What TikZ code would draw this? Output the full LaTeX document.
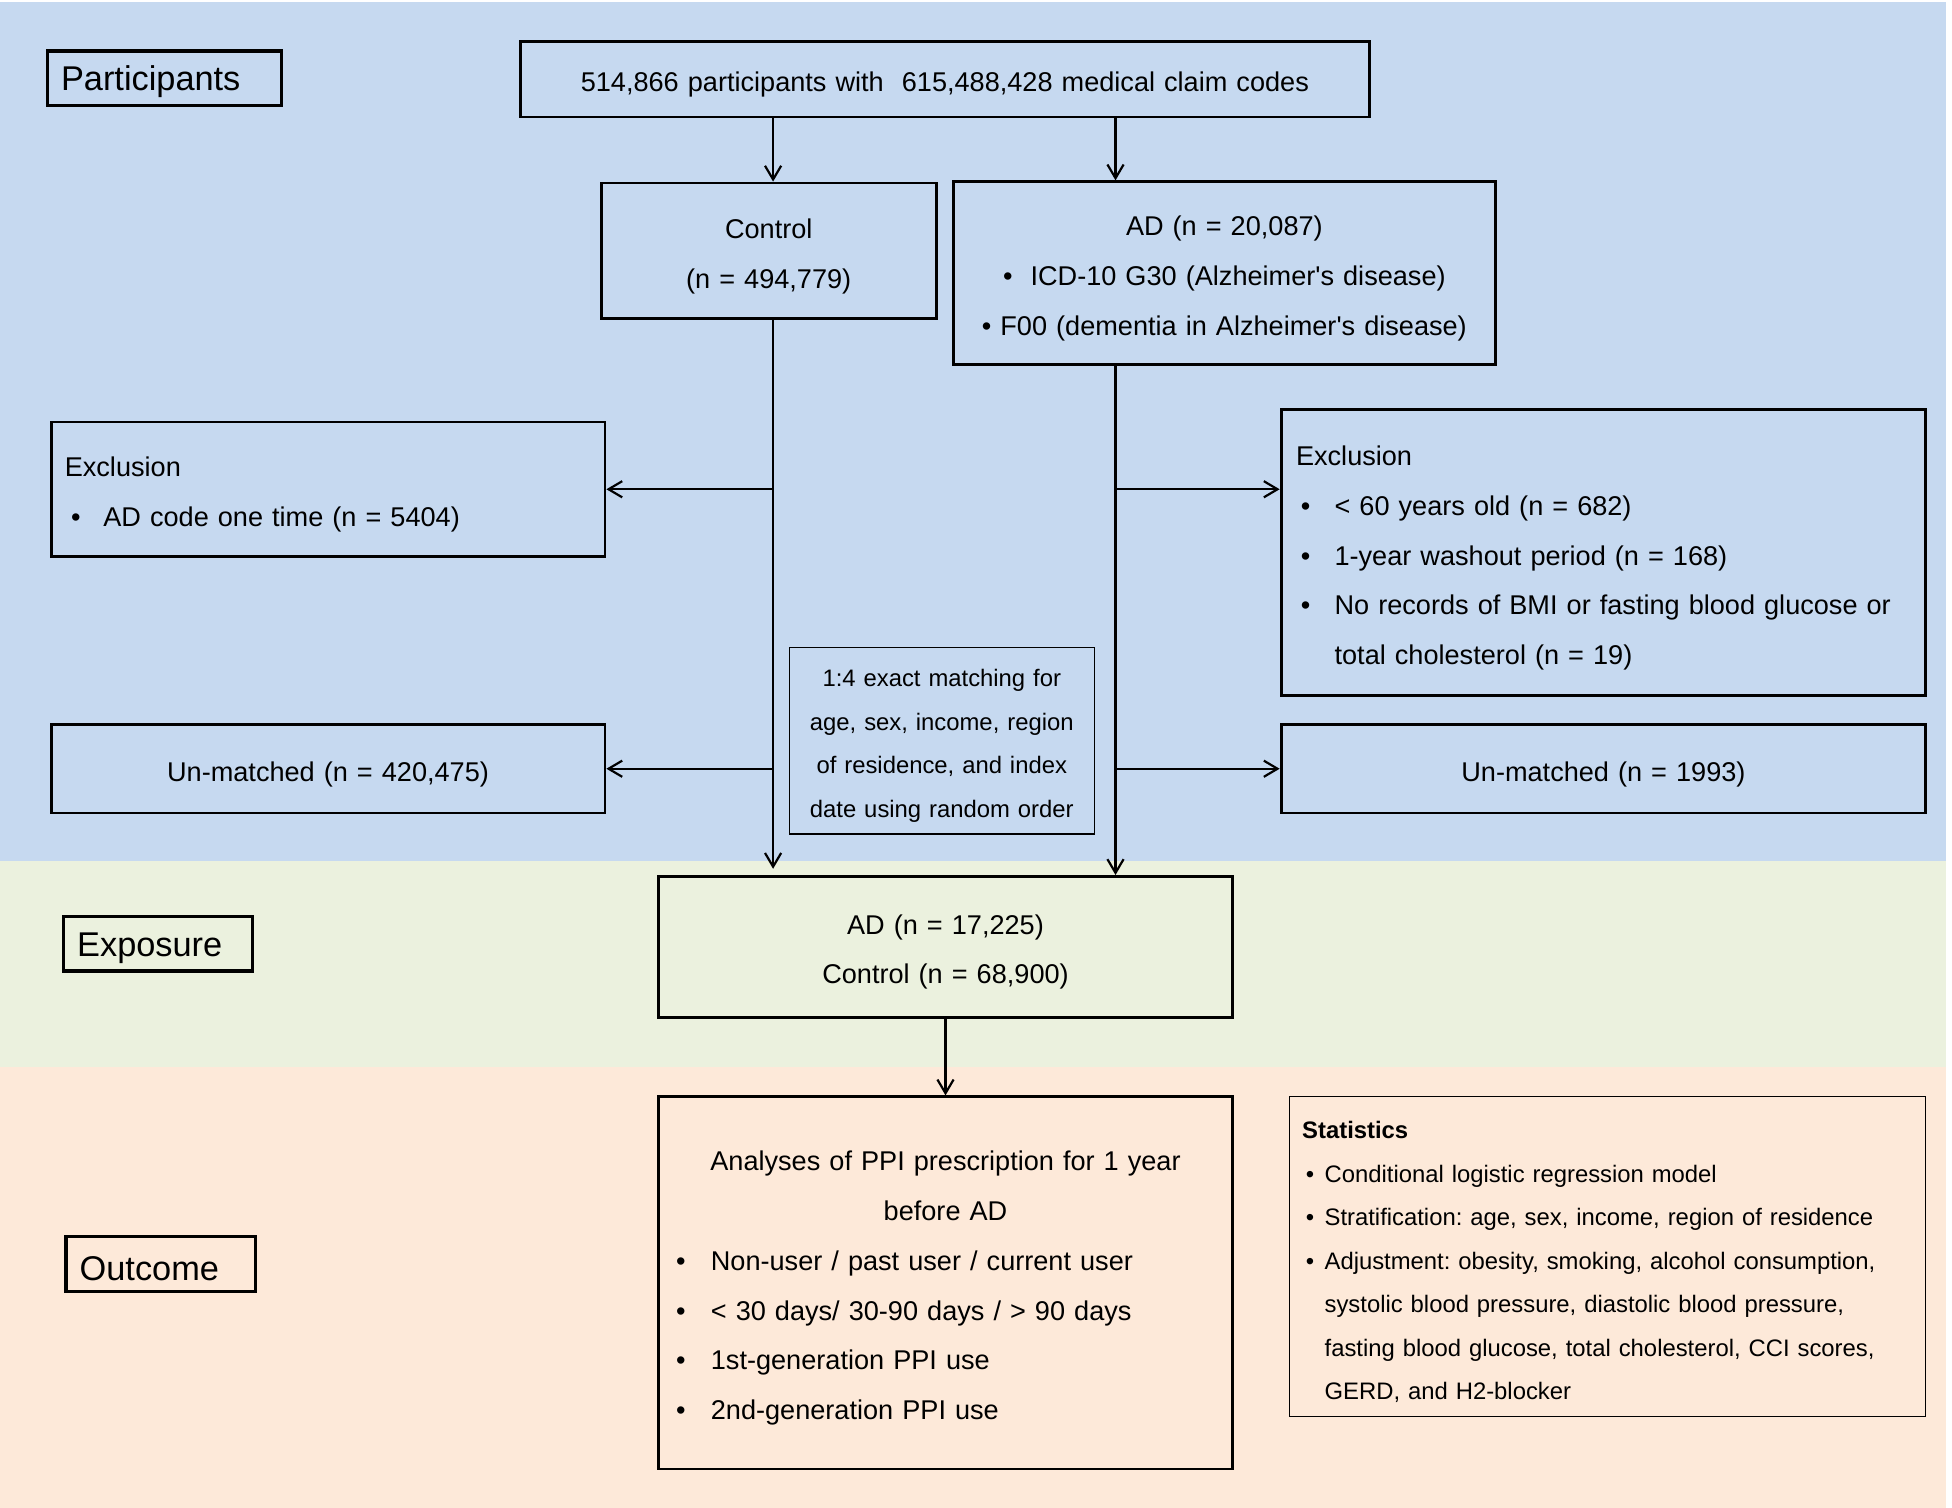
\documentclass[tikz,border=0pt]{standalone}
\usepackage{fontspec}
\setmainfont{Liberation Sans}
\usepackage{tikz}
\usetikzlibrary{arrows.meta, positioning, calc}
\definecolor{partblue}{HTML}{C6D9F0}
\definecolor{expogreen}{HTML}{EBF1DE}
\definecolor{outcpeach}{HTML}{FDE9D9}
\newcommand{\boxfont}{\fontsize{12.4}{22.76}\selectfont}
\newcommand{\smallboxfont}{\fontsize{10.9}{19.9}\selectfont}
\newcommand{\stagefont}{\fontsize{15.7}{18}\selectfont}
% bullet: shift, then width of the bullet column
\newcommand{\bul}[2]{\hspace*{#1}\makebox[#2][l]{\textbullet}}
% taller first line, so the text sits a little lower in its box
\newcommand{\toppad}[1]{\rule{0pt}{\dimexpr 0.75em+#1\relax}}
\frenchspacing

\begin{document}
\begin{tikzpicture}[
    x=0.02cm, y=-0.02cm,
    box/.style={draw, line width=1.3pt, inner sep=0pt, text width=#1, minimum width=#1, align=center, font=\boxfont, execute at begin node={\toppad{0.16cm}}},
    listbox/.style={draw, line width=1.3pt, inner ysep=0pt, align=left, font=\boxfont, execute at begin node={\toppad{0.16cm}}},
    thinbox/.style={draw, line width=0.6pt, inner ysep=0pt, font=\smallboxfont, execute at begin node={\toppad{0.16cm}}},
    stage/.style={draw, line width=1.5pt, inner xsep=0.22cm, inner ysep=0pt, text width=2.6cm, minimum height=0.88cm, align=left, font=\stagefont, execute at begin node={\toppad{0.1cm}}},
    arrow/.style={-{Straight Barb[length=2.2mm,width=2.6mm]}, line width=1pt}
]
    \useasboundingbox (0,0) rectangle (1568,1211);

    % Bands
    \fill[partblue] (0,2) rectangle (1563,692);
    \fill[expogreen] (0,692) rectangle (1563,857);
    \fill[outcpeach] (0,857) rectangle (1563,1211);

    % Stage labels
    \node[stage, text width=3.32cm] (participants) at (132,63) {Participants};
    \node[stage] (exposure) at (127,758) {Exposure};
    \node[stage] (outcome) at (129,1015.5) {Outcome};

    % Participants
    \node[box=13.64cm, minimum height=1.22cm] (top) at (759,63.5)
        {514,866 participants with \ 615,488,428 medical claim codes};
    \node[box=5.38cm, minimum height=2.18cm] (control) at (617.5,201.5)
        {Control\\(n = 494,779)};
    \node[box=8.7cm, minimum height=2.94cm] (ad) at (983.5,219.5)
        {AD (n = 20,087)\\\textbullet\ \ ICD-10 G30 (Alzheimer\textquotesingle s disease)\\\textbullet\ F00 (dementia in Alzheimer\textquotesingle s disease)};

    % Exclusion and matching
    \node[listbox, inner xsep=0.22cm, text width=8.46cm, minimum height=2.16cm] (exclL) at (263.5,393)
        {Exclusion\\\bul{0.1cm}{0.52cm}AD code one time (n = 5404)};
    \node[listbox, inner xsep=0.24cm, text width=9.88cm, minimum height=4.6cm] (exclR) at (1288,444)
        {Exclusion\\
         \bul{0.08cm}{0.54cm}< 60 years old (n = 682)\\
         \bul{0.08cm}{0.54cm}1-year washout period (n = 168)\\
         \bul{0.08cm}{0.54cm}No records of BMI or fasting blood glucose or\\
         \hspace*{0.62cm}total cholesterol (n = 19)};
    \node[thinbox, inner xsep=0pt, text width=4.9cm, align=center, minimum width=4.9cm, minimum height=3cm] (match) at (756.5,595)
        {1:4 exact matching for\\age, sex, income, region\\of residence, and index\\date using random order};
    \node[box=8.9cm, minimum height=1.42cm] (unmL) at (263.5,617.5) {Un-matched (n = 420,475)};
    \node[box=10.36cm, minimum height=1.42cm] (unmR) at (1288,617.5) {Un-matched (n = 1993)};

    % Exposure
    \node[box=9.22cm, minimum height=2.26cm] (expo) at (759.5,760.5)
        {AD (n = 17,225)\\Control (n = 68,900)};

    % Outcome
    \node[listbox, inner xsep=0.28cm, text width=8.66cm, minimum height=5.98cm] (outc) at (759.5,1030.5)
        {\makebox[\linewidth]{Analyses of PPI prescription for 1 year}\\
         \makebox[\linewidth]{before AD}\\
         \bul{0cm}{0.56cm}Non-user / past user / current user\\
         \bul{0cm}{0.56cm}< 30 days/ 30-90 days / > 90 days\\
         \bul{0cm}{0.56cm}1st-generation PPI use\\
         \bul{0cm}{0.56cm}2nd-generation PPI use};
    \node[thinbox, inner xsep=0.2cm, text width=9.82cm, minimum height=5.14cm, align=left] (stats) at (1291.5,1009.5)
        {\textbf{Statistics}\\
         \bul{0.06cm}{0.3cm}Conditional logistic regression model\\
         \bul{0.06cm}{0.3cm}Stratification: age, sex, income, region of residence\\
         \bul{0.06cm}{0.3cm}Adjustment: obesity, smoking, alcohol consumption,\\
         \hspace*{0.36cm}systolic blood pressure, diastolic blood pressure,\\
         \hspace*{0.36cm}fasting blood glucose, total cholesterol, CCI scores,\\
         \hspace*{0.36cm}GERD, and H2-blocker};

    % Connectors
    \coordinate (cout) at ($(control.south)+(3.5,0)$);
    \coordinate (adout) at ($(ad.south west)!0.3!(ad.south east)$);
    \draw[arrow] (top.south -| cout) -- (cout |- control.north);
    \draw[arrow] (top.south -| adout) -- (adout |- ad.north);
    \draw[arrow] (cout) -- ($(cout |- expo.north)+(0,-5)$);
    \draw[arrow] (adout) -- (adout |- expo.north);
    \draw[arrow] (cout |- exclL.east) -- (exclL.east);
    \draw[arrow] (cout |- unmL.east) -- (unmL.east);
    \draw[arrow] (adout |- exclL.east) -- (exclR.west |- exclL.east);
    \draw[arrow] (adout |- unmR.west) -- (unmR.west);
    \draw[arrow] (expo.south) -- (outc.north);
\end{tikzpicture}
\end{document}
